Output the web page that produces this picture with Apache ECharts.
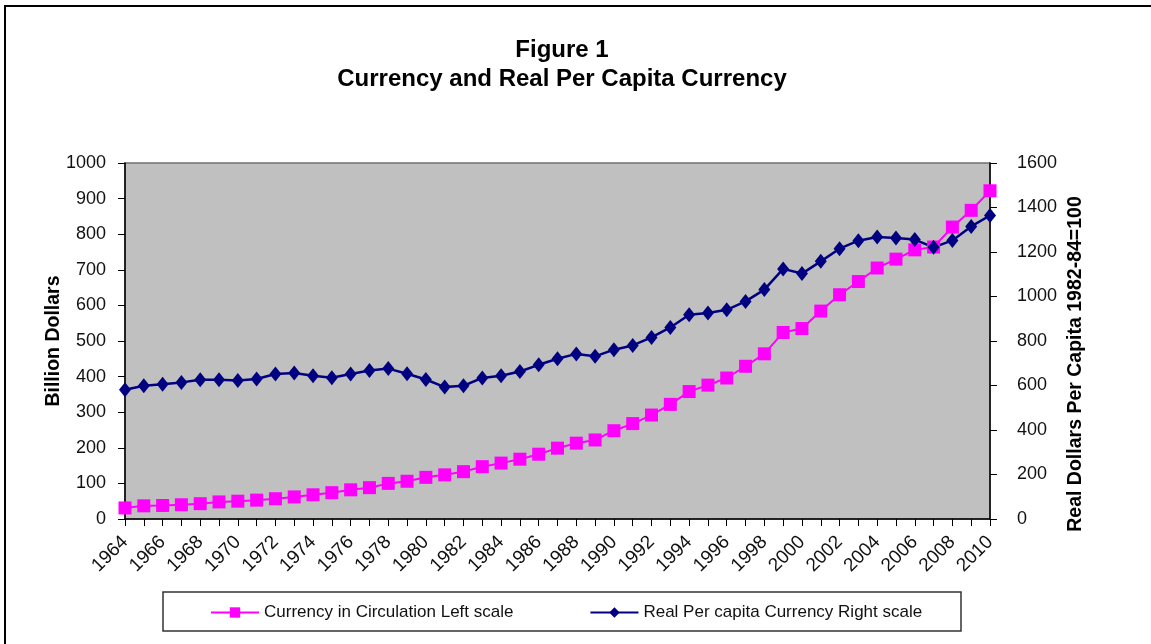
<!DOCTYPE html>
<html>
<head>
<meta charset="utf-8">
<title>Figure 1</title>
<script src="https://cdn.jsdelivr.net/npm/echarts@6/dist/echarts.min.js"></script>
<style>
  html, body { margin: 0; padding: 0; background: #fff; }
  #chart { width: 1151px; height: 644px; }
</style>
</head>
<body>
<div id="chart"></div>
<script>
// years 1964-2010
const years = [];
for (let y = 1964; y <= 2010; y++) years.push(String(y));

// billion dollars, left scale
const currency = [
  31, 37, 38, 40, 43, 48, 50, 53, 57, 62,
  68, 74, 82, 88, 100, 106, 117, 124, 133, 147,
  157, 168, 182, 199, 213, 222, 248, 268, 292, 322,
  358, 376, 396, 429, 464, 524, 535, 584, 630, 667,
  705, 730, 756, 764, 820, 867, 922
];

// real dollars per capita (1982-84=100), right scale
const realPerCapita = [
  581, 599, 606, 614, 626, 626, 623, 629, 652, 656,
  644, 635, 652, 667, 676, 653, 627, 593, 599, 634,
  644, 663, 693, 720, 742, 731, 761, 780, 816, 861,
  918, 926, 940, 978, 1031, 1124, 1103, 1158, 1215, 1251,
  1267, 1263, 1256, 1221, 1252, 1315, 1364
];

const font = 'Liberation Sans, Arial, sans-serif';
const plain = v => String(v);
const chart = echarts.init(document.getElementById('chart'));

chart.setOption({
  animation: false,
  backgroundColor: '#fff',
  textStyle: { fontFamily: font, color: '#000' },
  title: {
    text: 'Figure 1\nCurrency and Real Per Capita Currency',
    left: 557,
    textAlign: 'center',
    top: 31,
    textStyle: { fontSize: 24, fontWeight: 'bold', lineHeight: 29, color: '#000', fontFamily: font }
  },
  graphic: [
    { type: 'rect', shape: { x: 5, y: 6, width: 1160, height: 660 }, style: { fill: 'none', stroke: '#000', lineWidth: 2 }, silent: true },
    { type: 'rect', shape: { x: 163, y: 592, width: 798, height: 39 }, style: { fill: '#fff', stroke: '#333', lineWidth: 1.5 }, z: 1 }
  ],
  legend: {
    top: 599,
    left: 205,
    itemWidth: 48,
    itemHeight: 13,
    itemGap: 76,
    z: 5,
    textStyle: { fontSize: 17, color: '#111', fontFamily: font },
    data: ['Currency in Circulation Left scale', 'Real Per capita Currency Right scale']
  },
  grid: {
    left: 125, right: 161, top: 163, bottom: 125,
    show: true, backgroundColor: '#C0C0C0', borderColor: '#707070', borderWidth: 1.5
  },
  xAxis: {
    type: 'category',
    data: years,
    boundaryGap: false,
    axisLine: { lineStyle: { color: '#000', width: 1.5 } },
    axisTick: { interval: 0, length: 7, lineStyle: { color: '#000' } },
    axisLabel: { interval: 1, rotate: 45, fontSize: 19, color: '#111', margin: 20 },
    splitLine: { show: false }
  },
  yAxis: [
    {
      type: 'value', min: 0, max: 1000, interval: 100,
      name: 'Billion Dollars', nameLocation: 'middle', nameRotate: 90, nameGap: 61,
      nameMoveOverlap: false,
      nameTextStyle: { fontSize: 19.5, fontWeight: 'bold', color: '#000' },
      axisLine: { show: true, lineStyle: { color: '#000', width: 1.5 } },
      axisTick: { show: true, length: 7, lineStyle: { color: '#000' } },
      axisLabel: { fontSize: 18, color: '#111', margin: 19, formatter: plain },
      splitLine: { show: false }
    },
    {
      type: 'value', min: 0, max: 1600, interval: 200, position: 'right',
      name: 'Real Dollars Per Capita 1982-84=100', nameLocation: 'middle', nameRotate: 90, nameGap: 76,
      nameMoveOverlap: false,
      nameTextStyle: { fontSize: 19.5, fontWeight: 'bold', color: '#000', padding: [0, 46, 0, 0] },
      axisLine: { show: true, lineStyle: { color: '#000', width: 1.5 } },
      axisTick: { show: true, length: 7, lineStyle: { color: '#000' } },
      axisLabel: { fontSize: 18, color: '#111', margin: 27, formatter: plain },
      splitLine: { show: false }
    }
  ],
  series: [
    {
      name: 'Currency in Circulation Left scale',
      type: 'line',
      yAxisIndex: 0,
      data: currency,
      showAllSymbol: true,
      symbol: 'rect',
      symbolSize: 13,
      lineStyle: { color: '#FF00FF', width: 2 },
      itemStyle: { color: '#FF00FF' }
    },
    {
      name: 'Real Per capita Currency Right scale',
      type: 'line',
      yAxisIndex: 1,
      data: realPerCapita,
      showAllSymbol: true,
      symbol: 'diamond',
      symbolSize: [12, 15],
      lineStyle: { color: '#000080', width: 2.5 },
      itemStyle: { color: '#000080' }
    }
  ]
});

window.addEventListener('resize', () => chart.resize());
</script>
</body>
</html>
